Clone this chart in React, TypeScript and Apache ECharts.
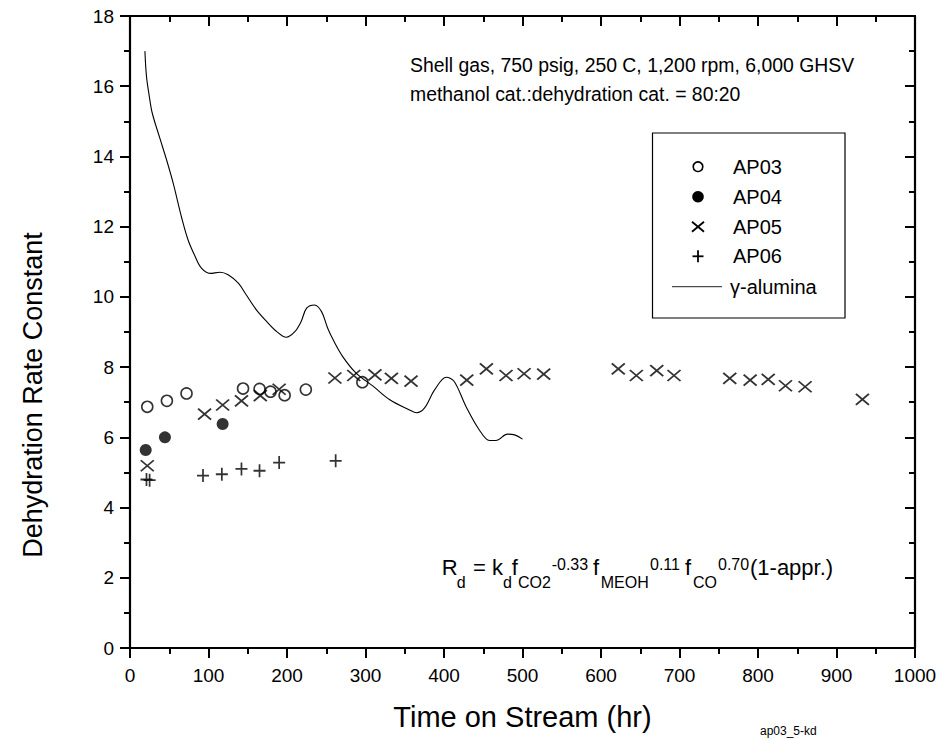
import React, { useEffect, useRef } from "react";
import * as echarts from "echarts";

// ---- data (time on stream [hr], dehydration rate constant) ----
const ap03: number[][] = [
  [22, 6.87], [47, 7.04], [72, 7.25], [144, 7.39], [165, 7.38],
  [179, 7.3], [197, 7.2], [224, 7.36], [296, 7.57],
];
const ap04: number[][] = [[20, 5.64], [44.5, 6.0], [118, 6.38]];
const ap05: number[][] = [
  [22, 5.19], [95, 6.66], [118, 6.92], [142, 7.04], [166, 7.19], [190, 7.37],
  [261, 7.69], [285, 7.76], [312, 7.78], [333, 7.68], [358, 7.6], [429, 7.63],
  [454, 7.95], [479, 7.76], [502, 7.81], [527, 7.8], [622, 7.95], [645, 7.76],
  [671, 7.9], [693, 7.76], [764, 7.68], [790, 7.63], [813, 7.65], [835, 7.47],
  [860, 7.44], [933, 7.08],
];
const ap06: number[][] = [
  [21, 4.8], [25, 4.78], [93, 4.91], [117, 4.95], [142, 5.1], [165, 5.05],
  [190, 5.28], [262, 5.33],
];
const gammaAlumina: number[][] = [
  [19, 17.0], [21, 16.28], [24.6, 15.71], [28.4, 15.23], [38, 14.52],
  [46.6, 13.9], [55, 13.24], [66, 12.24], [74, 11.62], [83, 11.15],
  [91, 10.82], [102, 10.67], [114.5, 10.7], [125, 10.63], [138, 10.39],
  [148, 10.06], [161, 9.63], [174, 9.3], [187, 9.01], [199, 8.85],
  [210, 9.01], [218, 9.3], [225, 9.68], [235, 9.77], [244, 9.58],
  [252, 9.1], [259, 8.77], [271, 8.3], [288, 7.83], [310, 7.45],
  [331, 7.07], [356, 6.78], [365, 6.7], [375, 6.83], [388, 7.35],
  [403, 7.71], [413, 7.59], [428, 6.88], [445, 6.21], [458, 5.91],
  [466, 5.91], [481, 6.09], [490, 6.07], [500, 5.95],
];
const seriesNames = ["AP03", "AP04", "AP05", "AP06", "γ-alumina"];
const xTitle = "Time on Stream (hr)";
const yTitle = "Dehydration Rate Constant";
const noteLines = [
  "Shell gas, 750 psig, 250 C, 1,200 rpm, 6,000 GHSV",
  "methanol cat.:dehydration cat. = 80:20",
];
const footnote = "ap03_5-kd";

const FONT = "'Liberation Sans', Arial, Helvetica, sans-serif";

function axisStyle(inside: boolean, showLabel: boolean, margin: number) {
  return {
    axisLine: { show: true, onZero: false, lineStyle: { color: "#000000", width: 2.2, opacity: 1, type: "solid" } },
    axisTick: { show: true, inside, length: 10, lineStyle: { color: "#000000", width: 2, opacity: 1 } },
    minorTick: { show: true, splitNumber: 2, length: 6, lineStyle: { color: "#000000", width: 2, opacity: 1 } },
    splitLine: { show: false },
    minorSplitLine: { show: false },
    axisLabel: showLabel
      ? { show: true, color: "#000", fontFamily: FONT, fontSize: 19, margin, formatter: (v: number) => String(v) }
      : { show: false },
  };
}

export default function App() {
  const ref = useRef<HTMLDivElement>(null);

  useEffect(() => {
    if (!ref.current) return;
    const chart = echarts.init(ref.current, null, { renderer: "svg" });

    const txt = (text: string, x: number, y: number, size: number, extra: any = {}) => ({
      type: "text",
      x,
      y,
      silent: true,
      style: { text, fill: "#000", fontFamily: FONT, fontSize: size, align: "left", verticalAlign: "middle", ...extra },
    });

    const mainY = 567;
    const subY = 582;
    const supY = 564;
    const formula = [
      txt("R", 441.7, mainY, 22),
      txt("d", 456.7, subY, 16),
      txt("= k", 473, mainY, 22),
      txt("d", 503, subY, 16),
      txt("f", 511.7, mainY, 22),
      txt("CO2", 518, subY, 16),
      txt("-0.33", 551.7, supY, 16),
      txt("f", 593, mainY, 22),
      txt("MEOH", 600.7, subY, 16),
      txt("0.11", 650, supY, 16),
      txt("f", 685, mainY, 22),
      txt("CO", 693, subY, 16),
      txt("0.70", 718, supY, 16),
      txt("(1-appr.)", 750, mainY, 22),
    ];

    const lx = 698;
    const legendY = [166.7, 196.7, 226.7, 256.3, 286.7];
    const legend = [
      { type: "rect", silent: true, shape: { x: 652.5, y: 133, width: 192.5, height: 185 }, style: { fill: "#fff", stroke: "#000", lineWidth: 1.2 } },
      { type: "circle", silent: true, shape: { cx: lx, cy: legendY[0], r: 4.8 }, style: { fill: "none", stroke: "#000", lineWidth: 1.6 } },
      { type: "circle", silent: true, shape: { cx: lx, cy: legendY[1], r: 5.8 }, style: { fill: "#000" } },
      { type: "line", silent: true, shape: { x1: lx - 6, y1: legendY[2] - 5, x2: lx + 6, y2: legendY[2] + 5 }, style: { stroke: "#000", lineWidth: 1.8 } },
      { type: "line", silent: true, shape: { x1: lx + 6, y1: legendY[2] - 5, x2: lx - 6, y2: legendY[2] + 5 }, style: { stroke: "#000", lineWidth: 1.8 } },
      { type: "line", silent: true, shape: { x1: lx, y1: legendY[3] - 6, x2: lx, y2: legendY[3] + 6 }, style: { stroke: "#000", lineWidth: 1.8 } },
      { type: "line", silent: true, shape: { x1: lx - 5.5, y1: legendY[3], x2: lx + 5.5, y2: legendY[3] }, style: { stroke: "#000", lineWidth: 1.8 } },
      { type: "line", silent: true, shape: { x1: 672, y1: legendY[4], x2: 722, y2: legendY[4] }, style: { stroke: "#222", lineWidth: 1 } },
      txt(seriesNames[0], 733, legendY[0], 20),
      txt(seriesNames[1], 733, legendY[1], 20),
      txt(seriesNames[2], 733, legendY[2], 20),
      txt(seriesNames[3], 733, legendY[3], 20),
      txt(seriesNames[4], 730, legendY[4], 20),
    ];

    chart.setOption({
      animation: false,
      backgroundColor: "#fff",
      grid: { left: 130, right: 29, top: 16, bottom: 92, containLabel: false },
      xAxis: [
        {
          type: "value", position: "bottom", min: 0, max: 1000, interval: 100,
          ...axisStyle(false, true, 18),
          name: xTitle, nameLocation: "middle", nameGap: 54,
          nameTextStyle: { color: "#000", fontFamily: FONT, fontSize: 29 },
        },
        {
          type: "value", position: "top", min: 0, max: 1000, interval: 100,
          ...axisStyle(true, false, 0),
        },
      ],
      yAxis: [
        {
          type: "value", position: "left", min: 0, max: 18, interval: 2,
          ...axisStyle(false, true, 16),
        },
        {
          type: "value", position: "right", min: 0, max: 18, interval: 2,
          ...axisStyle(true, false, 0),
        },
      ],
      series: [
        {
          name: seriesNames[4], type: "line", data: gammaAlumina, showSymbol: false, symbol: "none",
          smooth: 0.35, lineStyle: { color: "#000", width: 1.1 }, z: 1,
        },
        {
          name: seriesNames[0], type: "scatter", data: ap03, symbol: "circle", symbolSize: 11,
          itemStyle: { color: "rgba(0,0,0,0)", borderColor: "#000", borderWidth: 1.6 }, z: 3,
        },
        {
          name: seriesNames[1], type: "scatter", data: ap04, symbol: "circle", symbolSize: 12,
          itemStyle: { color: "#000" }, z: 3,
        },
        {
          name: seriesNames[2], type: "scatter", data: ap05, symbol: "path://M0,0L10,10M10,0L0,10",
          symbolSize: [13, 11], itemStyle: { color: "#000", borderColor: "#000", borderWidth: 1.8 }, z: 3,
        },
        {
          name: seriesNames[3], type: "scatter", data: ap06, symbol: "path://M5,0L5,10M0,5L10,5",
          symbolSize: [12, 13], itemStyle: { color: "#000", borderColor: "#000", borderWidth: 1.8 }, z: 3,
        },
      ],
      graphic: [
        txt(noteLines[0], 410, 65, 19.4),
        txt(noteLines[1], 410, 94, 19.4),
        ...formula,
        ...legend,
        { ...txt(yTitle, 33, 395, 27, { align: "center" }), rotation: Math.PI / 2 },
        txt(footnote, 760, 731, 12),
      ],
    });

    return () => chart.dispose();
  }, []);

  return (
    <div
      ref={ref}
      style={{ position: "fixed", left: 0, top: 0, width: 944, height: 740, background: "#fff" }}
    />
  );
}
